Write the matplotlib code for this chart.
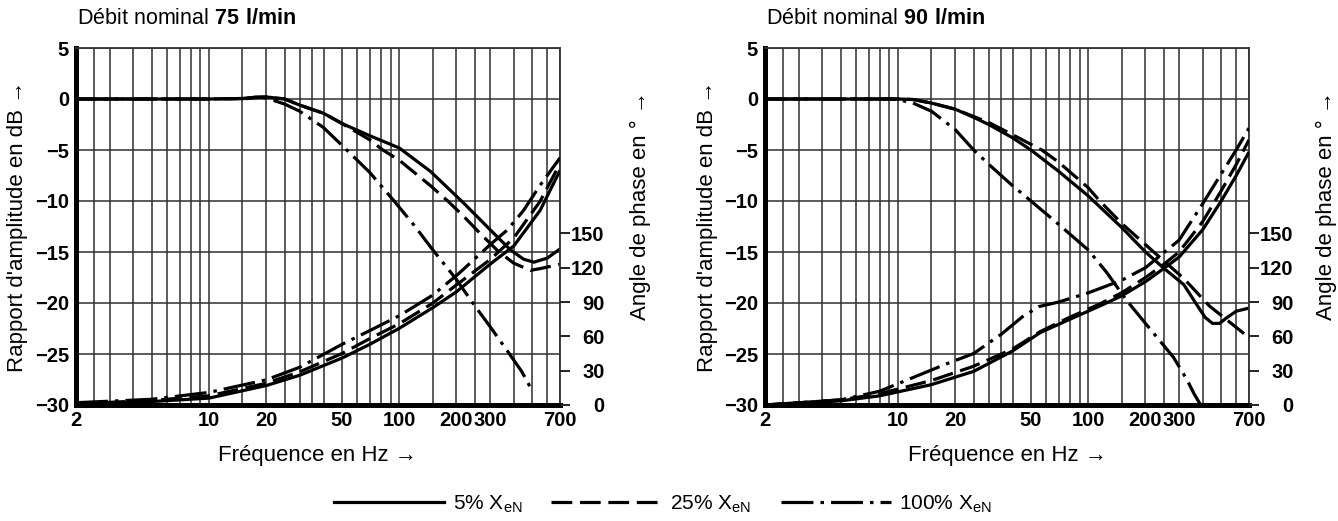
import matplotlib
matplotlib.use('Agg')
import matplotlib.pyplot as plt
from matplotlib.lines import Line2D
from matplotlib.ticker import NullFormatter

plt.rcParams['font.family'] = ['Liberation Sans', 'DejaVu Sans']
plt.rcParams['mathtext.fontset'] = 'custom'
plt.rcParams['mathtext.rm'] = 'Liberation Sans'
plt.rcParams['mathtext.bf'] = 'Liberation Sans:bold'

# ---- Débit nominal 75 l/min : amplitude (dB) ----
f_amp_L_5 = [2, 5, 10, 15, 18, 20, 25, 30, 40, 50, 70, 100, 146, 218, 327, 385, 450, 510, 600, 700]
amp_L_5 = [0, 0, 0, 0.05, 0.2, 0.2, 0.0, -0.6, -1.4, -2.4, -3.6, -4.8, -7.1, -10.2, -13.5, -14.8, -15.7, -16.0, -15.6, -14.7]
f_amp_L_25 = [2, 5, 10, 15, 18, 20, 25, 30, 40, 50, 70, 82, 100, 146, 180, 218, 267, 330, 400, 490, 560, 700]
amp_L_25 = [0, 0, 0, 0.05, 0.15, 0.2, 0.0, -0.6, -1.4, -2.4, -4.0, -5.0, -6.0, -8.5, -10.0, -11.5, -13.2, -14.9, -16.1, -16.8, -16.6, -16.2]
f_amp_L_100 = [2, 5, 10, 16, 18, 20, 25, 30, 40, 53, 70, 94, 120, 146, 198, 250, 300, 380, 440, 490]
amp_L_100 = [0, 0, 0, 0.05, 0.2, 0.1, -0.5, -1.2, -2.8, -5.0, -7.2, -10.0, -12.4, -14.5, -17.6, -20.3, -22.3, -25.0, -26.7, -28.3]

# ---- Débit nominal 75 l/min : phase (°) ----
f_ph_L = [2, 5, 10, 20, 30, 50, 70, 100, 150, 200, 300, 400, 550, 700]
ph_L_5 = [1, 3, 6, 17, 26, 41, 53, 67, 85, 99, 123, 139, 170, 205]
ph_L_25 = [1, 4, 8, 19, 29, 45, 58, 71, 89, 105, 127, 146, 178, 211]
f_ph_L_100 = [2, 5, 10, 20, 30, 50, 70, 100, 150, 206, 300, 370, 450, 550, 700]
ph_L_100 = [2, 5, 11, 22, 33, 53, 65, 78, 96, 115, 140, 153, 170, 192, 216]

# ---- Débit nominal 90 l/min : amplitude (dB) ----
f_amp_R_5 = [2, 10, 12, 15, 20, 25, 30, 40, 50, 70, 100, 150, 200, 250, 318, 370, 411, 450, 490, 530, 600, 700]
amp_R_5 = [0, 0, -0.05, -0.4, -1.0, -1.8, -2.5, -3.8, -5.0, -7.1, -9.5, -12.6, -15.0, -16.6, -18.2, -20.1, -21.4, -22.0, -22.0, -21.5, -20.8, -20.5]
f_amp_R_25 = [2, 10, 12, 15, 20, 30, 40, 57, 70, 100, 115, 150, 221, 318, 434, 556, 700]
amp_R_25 = [0, 0, -0.05, -0.4, -1.0, -2.3, -3.5, -5.0, -6.2, -8.7, -10.0, -12.2, -15.0, -17.6, -20.3, -21.9, -23.4]
f_amp_R_100 = [2, 9, 10, 12, 15, 20, 25, 30, 40, 50, 70, 100, 125, 160, 200, 280, 330, 360, 390]
amp_R_100 = [0, 0, -0.05, -0.4, -1.2, -3.0, -5.0, -6.4, -8.5, -10.0, -12.3, -14.8, -17.0, -19.8, -22.0, -25.3, -27.5, -28.9, -30.0]

# ---- Débit nominal 90 l/min : phase (°) ----
f_ph_R = [2, 5, 8, 15, 25, 40, 56, 80, 115, 150, 200, 250, 300, 400, 500, 600, 700]
ph_R_5 = [0, 3.6, 8.0, 17.8, 29.4, 47.2, 63.3, 74.9, 86.5, 95.4, 107.8, 119.4, 129.2, 153.3, 178.3, 200.6, 221.1]
ph_R_25 = [0, 4.5, 9.8, 21.4, 33.9, 48.9, 64.2, 76.7, 88.3, 98.1, 111.4, 123.0, 133.7, 160.4, 187.2, 210.3, 231.7]
f_ph_R_100 = [2, 5, 8, 12, 18, 25, 35, 45, 55, 70, 100, 150, 200, 300, 400, 500, 600, 700]
ph_R_100 = [0, 4.5, 12, 24, 36, 45, 62, 77, 86, 90, 98, 109, 120, 144, 176, 202, 223, 242]

# axes / ticks
x_ticks = [2, 10, 20, 50, 100, 200, 300, 700]
x_tick_labels = ['2', '10', '20', '50', '100', '200', '300', '700']
x_grid = [2.5, 3, 4, 5, 6, 7, 8, 9, 15, 25, 30, 35, 40, 60, 70, 80, 90, 150, 250, 400, 500, 600]
y_ticks = [5, 0, -5, -10, -15, -20, -25, -30]
y_tick_labels = ['5', '0', '\u22125', '\u221210', '\u221215', '\u221220', '\u221225', '\u221230']
phase_ticks = [0, 30, 60, 90, 120, 150]
phase_labels = ['0', '30', '60', '90', '120', '150']

tick_font = dict(family=['Liberation Sans Narrow', 'Liberation Sans', 'DejaVu Sans'],
                 weight='bold', size=14.5)
LW = 2.3
styles = {
    '5': dict(ls='-'),
    '25': dict(dashes=(6.5, 2.4)),
    '100': dict(dashes=(10, 2.2, 1.1, 2.2)),
}


def draw_panel(ax, amps, phases):
    ax.set_xscale('log')
    ax.set_xlim(2, 700)
    ax.set_ylim(-30, 5)
    ax.set_xticks(x_ticks, x_tick_labels, **tick_font)
    ax.set_xticks(x_grid, minor=True)
    ax.xaxis.set_minor_formatter(NullFormatter())
    ax.set_yticks(y_ticks, y_tick_labels, **tick_font)
    ax.tick_params(which='both', length=0)
    ax.tick_params(axis='x', pad=4)
    ax.tick_params(axis='y', pad=5)
    ax.grid(which='both', color='#2e2e2e', lw=1.1)
    ax.set_axisbelow(True)
    for side in ['left', 'bottom']:
        ax.spines[side].set_linewidth(3.6)
        ax.spines[side].set_color('black')
    for side in ['top', 'right']:
        ax.spines[side].set_linewidth(1.3)
        ax.spines[side].set_color('#333333')

    for key, (f, v) in amps.items():
        ax.plot(f, v, color='black', lw=LW, solid_capstyle='butt', **styles[key])

    tw = ax.twinx()
    tw.set_ylim(0, 312)
    tw.set_yticks(phase_ticks, phase_labels, ha='right', **tick_font)
    tw.tick_params(axis='y', length=7, width=1.4, pad=25, color='#222222')
    for s in tw.spines.values():
        s.set_visible(False)
    for key, (f, v) in phases.items():
        tw.plot(f, v, color='black', lw=LW, solid_capstyle='butt', **styles[key])
    return tw


fig = plt.figure(figsize=(13.38, 5.21), dpi=100)
W, H = 1338, 521
axL = fig.add_axes([76 / W, 116 / H, 484 / W, 357 / H])
axR = fig.add_axes([765 / W, 116 / H, 484 / W, 357 / H])

draw_panel(axL,
           {'5': (f_amp_L_5, amp_L_5), '25': (f_amp_L_25, amp_L_25), '100': (f_amp_L_100, amp_L_100)},
           {'5': (f_ph_L, ph_L_5), '25': (f_ph_L, ph_L_25), '100': (f_ph_L_100, ph_L_100)})
draw_panel(axR,
           {'5': (f_amp_R_5, amp_R_5), '25': (f_amp_R_25, amp_R_25), '100': (f_amp_R_100, amp_R_100)},
           {'5': (f_ph_R, ph_R_5), '25': (f_ph_R, ph_R_25), '100': (f_ph_R_100, ph_R_100)})

# titles and axis labels
fig.text(77 / W, 1 - 18 / H, 'Débit nominal $\\mathbf{75\\ l/min}$', fontsize=15.5, va='center', ha='left')
fig.text(766 / W, 1 - 18 / H, 'Débit nominal $\\mathbf{90\\ l/min}$', fontsize=15.5, va='center', ha='left')
for x in [18, 707]:
    fig.text(x / W, 1 - 226 / H, "Rapport d'amplitude en dB \u2192", fontsize=16,
             rotation=90, va='center', ha='center')
for x in [640, 1326]:
    fig.text(x / W, 1 - 205 / H, 'Angle de phase en ° \u2192', fontsize=16,
             rotation=90, va='center', ha='center')
for x in [318, 1007]:
    fig.text(x / W, 1 - 455 / H, 'Fréquence en Hz \u2192', fontsize=16, va='center', ha='center')

# legend
handles = [Line2D([], [], color='black', lw=LW, **styles[k]) for k in ['5', '25', '100']]
labels = ['5% $\\mathrm{X}_{\\mathrm{eN}}$', '25% $\\mathrm{X}_{\\mathrm{eN}}$', '100% $\\mathrm{X}_{\\mathrm{eN}}$']
fig.legend(handles, labels, loc='center', bbox_to_anchor=(663 / W, 1 - 504 / H), ncol=3,
           frameon=False, fontsize=15, handlelength=5.3, handletextpad=0.4, columnspacing=1.4)

fig.savefig('out.png', dpi=100)
